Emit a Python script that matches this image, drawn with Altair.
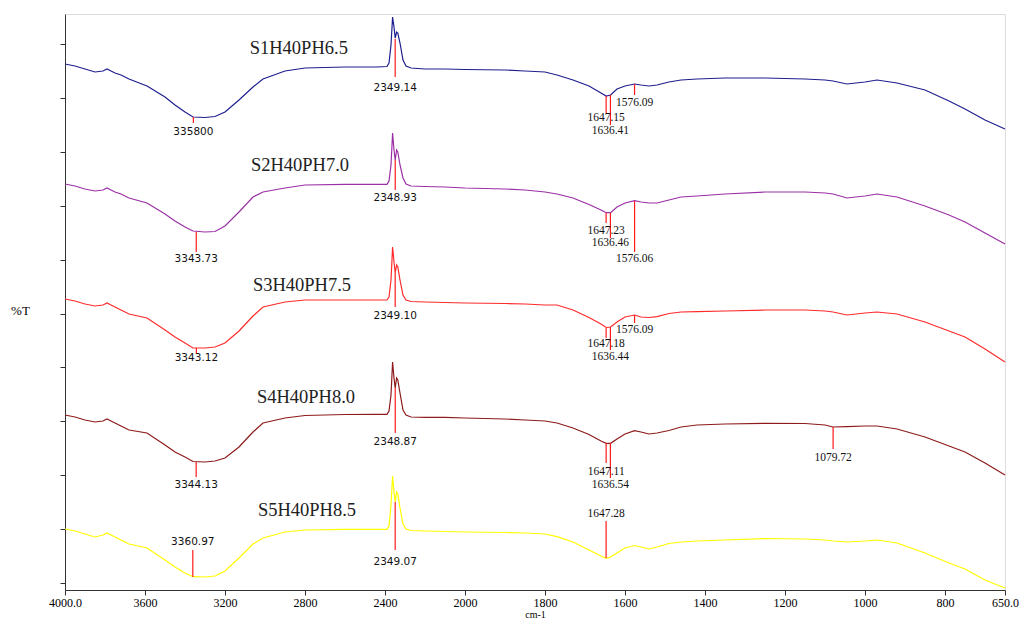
import altair as alt
import pandas as pd

# Wavenumber grid (cm-1) shared by all spectra
WN = [4000, 3950, 3900, 3850, 3810, 3790, 3770, 3750, 3720, 3680, 3590, 3500, 3450, 3400, 3360,
      3300, 3250, 3200, 3130, 3060, 3010, 2900, 2800, 2600, 2440, 2390, 2380, 2370, 2362, 2355,
      2349, 2342, 2336, 2325, 2310, 2295, 2270, 2200, 2100, 2000, 1900, 1850, 1800, 1770, 1730,
      1690, 1660, 1647, 1636, 1620, 1600, 1576, 1560, 1540, 1520, 1490, 1460, 1420, 1350, 1250,
      1150, 1100, 1080, 1045, 1000, 970, 920, 850, 790, 750, 700, 650]

# %T (vertically offset, arbitrary units)
S1 = [519, 517, 514, 511, 512, 514, 512, 510, 508, 504, 497, 486, 478, 471, 466, 465.5, 466.5, 471,
      483, 496, 504, 512, 515, 516, 516, 516.5, 520, 538, 566, 556, 545, 551, 550, 540, 523, 517,
      515, 514, 514, 513.5, 513, 512, 511, 508, 503, 497, 490, 487, 488, 494, 497, 499, 498, 497,
      498, 501, 503, 504, 505, 505, 504, 503, 502, 499, 501, 503, 500, 493, 482, 474, 463, 454]
S2 = [399, 397, 394, 392, 393, 395, 393, 391, 389, 385, 380, 369, 362, 356, 352, 351, 351.5, 357,
      371, 386, 391, 395, 398, 398.7, 398.7, 398.7, 402, 418, 450, 433, 423, 433, 431, 418, 405,
      399, 397, 396.5, 396, 395, 394, 393, 391, 389, 385, 378.5, 373, 370.3, 370.3, 376, 380,
      382.3, 381, 380, 380, 383, 386, 387, 389, 391, 391, 390, 389, 385, 387, 389, 386, 377, 368,
      361, 350, 339]
S3 = [284, 282, 279, 277, 278, 280, 278, 276, 273, 269, 265, 253, 246, 240, 235, 235, 236, 240,
      252, 267, 276, 281, 283, 283, 283, 283, 286, 303, 336, 321, 310, 318, 316, 303, 288, 283,
      281.5, 281, 280.5, 280, 279.5, 279, 278, 278, 273, 265.5, 259, 255.5, 256, 261, 266, 268,
      266, 265.5, 266.3, 269.5, 271, 271.3, 272, 273, 273, 272, 271, 268, 270, 271, 269, 261, 252,
      246, 234, 221]
S4 = [168, 166, 163, 161, 162, 164, 162, 160, 157, 153, 150, 138, 131, 126, 121.5, 121, 122, 125,
      136, 151, 160, 165, 167.5, 168.5, 168.7, 168.7, 172, 188, 221, 205, 195, 205, 203, 190, 173,
      168, 166, 165.7, 165.7, 165, 164, 163, 162, 160, 155, 148.5, 142, 139.7, 139.7, 144, 149,
      152.3, 151, 149, 150, 152.5, 156, 158, 159, 159.7, 159.5, 158, 156, 156.3, 157, 157, 154,
      146, 137, 131, 120, 108]
S5 = [54, 52, 49, 46, 48, 50, 48, 46, 43, 39, 35, 23, 16, 10, 6.3, 6, 7, 12, 25, 39, 45, 51, 53,
      53.7, 53.7, 53.7, 57, 78, 107, 91, 81, 91, 89, 75, 59, 54, 52.5, 52, 51.5, 51, 50.5, 50, 49,
      46.3, 41, 33, 27, 24.7, 26, 30, 35, 37.5, 36, 34, 36, 39.5, 41, 42, 43, 44.5, 44, 43, 42, 41,
      42, 43, 40, 30, 20, 14, 3, -5]

SERIES = ["S1H40PH6.5", "S2H40PH7.0", "S3H40PH7.5", "S4H40PH8.0", "S5H40PH8.5"]
VALUES = [S1, S2, S3, S4, S5]
COLORS = ["#1f1f8f", "#9b30a6", "#ff2b2b", "#8e1b1b", "#ffff00"]

# sample name label positions (wavenumber, %T)
NAME_WN = [2831, 2825, 2815, 2795, 2790]
NAME_T = [535, 418, 298, 186, 73]

# peak annotations
PEAK_TEXT = ["335800", "2349.14", "1647.15", "1636.41", "1576.09",
             "3343.73", "2348.93", "1647.23", "1636.46", "1576.06",
             "3343.12", "2349.10", "1647.18", "1636.44", "1576.09",
             "3344.13", "2348.87", "1647.11", "1636.54", "1079.72",
             "3360.97", "2349.07", "1647.28"]
PEAK_WN = [3358.00, 2349.14, 1647.15, 1636.41, 1576.09,
           3343.73, 2348.93, 1647.23, 1636.46, 1576.06,
           3343.12, 2349.10, 1647.18, 1636.44, 1576.09,
           3344.13, 2348.87, 1647.11, 1636.54, 1079.72,
           3360.97, 2349.07, 1647.28]
PEAK_T1 = [466, 544, 487, 488, 499,
           351, 423, 370, 370, 382,
           235, 310, 255, 256, 268,
           121, 195, 140, 140, 156,
           6, 81, 25]
PEAK_T2 = [460, 506, 470, 458, 488,
           331, 393, 360, 345, 331,
           230, 276, 245, 233, 260,
           106, 150, 120, 105, 134,
           33, 33, 62]
PEAK_LABEL_T = [451, 495, 465, 452, 480,
                324, 385, 352, 340, 324,
                225, 267, 239, 226, 253,
                98, 141, 111, 98, 125,
                41, 21, 69]

X_TICKS = [4000, 3600, 3200, 2800, 2400, 2000, 1800, 1600, 1400, 1200, 1000, 800, 650]
Y_TICK_STEP = 26.95

rows = []
for name, vals in zip(SERIES, VALUES):
    for w, v in zip(WN, vals):
        rows.append({"series": name, "wn": w, "t": v})
spec = pd.DataFrame(rows)
names = pd.DataFrame({"series": SERIES, "wn": NAME_WN, "t": NAME_T})
peaks = pd.DataFrame({"text": PEAK_TEXT, "wn": PEAK_WN, "t1": PEAK_T1, "t2": PEAK_T2,
                      "tl": PEAK_LABEL_T})

xscale = alt.Scale(domain=[4000, 2000, 650], range=[0, 400, 940], nice=False, zero=False)
yscale = alt.Scale(domain=[-7, 569], nice=False, zero=False)

xaxis = alt.Axis(values=X_TICKS, format="d",
                 labelExpr="datum.value == 4000 ? '4000.0' : (datum.value == 650 ? '650.0' : datum.label)",
                 labelFlush=False, labelOverlap=False, grid=False, tickSize=5,
                 labelFont="Liberation Serif", labelFontSize=12, labelColor="#000",
                 labelPadding=2, title="cm-1", titleFont="Liberation Serif",
                 titleFontSize=10, titleFontWeight="normal", titleY=24,
                 titleBaseline="middle", domainColor="#333", tickColor="#333")
yaxis = alt.Axis(values=[i * Y_TICK_STEP for i in range(22)], labels=False, grid=False,
                 tickSize=5, title="%T", titleAngle=0, titleX=-45, titleY=296,
                 titleAlign="center", titleBaseline="middle", titleFont="Liberation Serif",
                 titleFontSize=13, titleFontWeight="normal", domainColor="#333", tickColor="#333")

lines = alt.Chart(spec).mark_line(strokeWidth=1.2, interpolate="linear").encode(
    x=alt.X("wn:Q", scale=xscale, axis=xaxis),
    y=alt.Y("t:Q", scale=yscale, axis=yaxis),
    color=alt.Color("series:N", scale=alt.Scale(domain=SERIES, range=COLORS), legend=None),
    order=alt.Order("wn:Q"),
)

rules = alt.Chart(peaks).mark_rule(color="#ff1a1a", strokeWidth=1.2).encode(
    x=alt.X("wn:Q", scale=xscale), y=alt.Y("t1:Q", scale=yscale), y2="t2:Q")

ptext_hi = alt.Chart(peaks).transform_filter("datum.wn > 2000").mark_text(
    font="DejaVu Sans", fontSize=10.5, color="#111", align="center", baseline="middle").encode(
    x=alt.X("wn:Q", scale=xscale), y=alt.Y("tl:Q", scale=yscale), text="text:N")

ptext_lo = alt.Chart(peaks).transform_filter("datum.wn < 2000").mark_text(
    font="Liberation Serif", fontSize=11.5, color="#111", align="center", baseline="middle").encode(
    x=alt.X("wn:Q", scale=xscale), y=alt.Y("tl:Q", scale=yscale), text="text:N")

name_text = alt.Chart(names).mark_text(
    font="Liberation Serif", fontSize=18.5, color="#222", align="center", baseline="middle").encode(
    x=alt.X("wn:Q", scale=xscale), y=alt.Y("t:Q", scale=yscale), text="series:N")

chart = alt.layer(lines, rules, ptext_hi, ptext_lo, name_text).properties(
    width=940, height=576,
    autosize=alt.AutoSizeParams(type="none"),
    padding={"left": 57, "top": 6, "right": 14, "bottom": 28},
).configure_view(stroke=None).configure(background="white")

chart.save("out.html", embed_options={"renderer": "svg", "actions": False})
